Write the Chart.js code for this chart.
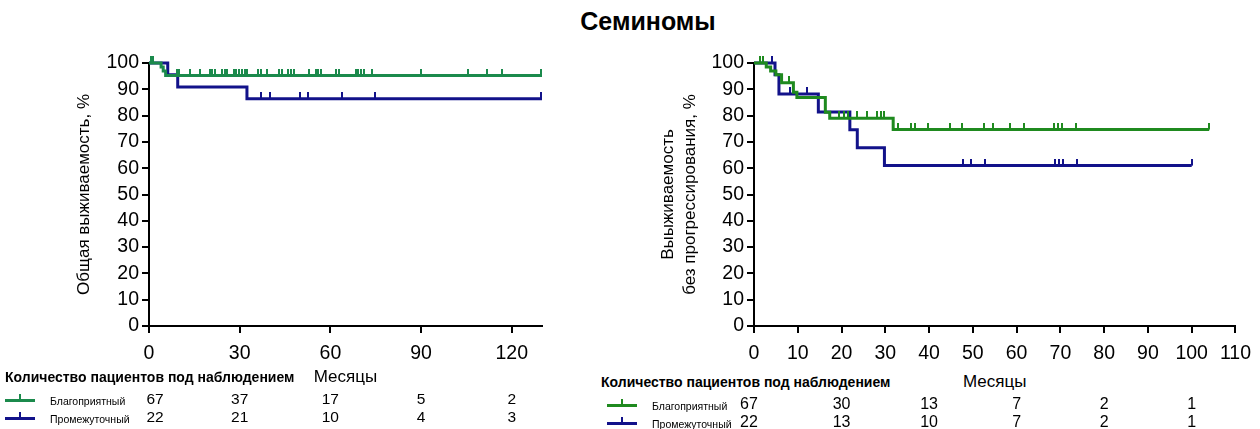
<!DOCTYPE html>
<html><head><meta charset="utf-8">
<script src="https://cdn.jsdelivr.net/npm/chart.js@4.4.0/dist/chart.umd.min.js"></script>
<style>
body{margin:0;width:1260px;height:429px;background:#fff;position:relative;overflow:hidden;font-family:"Liberation Sans",Arial,sans-serif;}
canvas{position:absolute;}
.t{position:absolute;white-space:nowrap;color:#000;}
</style></head><body>
<div class="t" style="left:648px;top:6px;transform:translateX(-50%);font-weight:bold;font-size:25px;line-height:30px;">Семиномы</div>
<canvas id="c1" width="560" height="330" style="left:0;top:40px"></canvas>
<canvas id="c2" width="660" height="330" style="left:600px;top:40px"></canvas>
<script>
// ---------- data ----------
const yTicks = [0,10,20,30,40,50,60,70,80,90,100];
const osTicksX = [0,30,60,90,120];
const pfsTicksX = [0,10,20,30,40,50,60,70,80,90,100,110];
const groupLabels = ['Благоприятный','Промежуточный'];

// Overall survival (left)
const osGoodTimes = [0, 4.0, 4.7, 5.5, 130];
const osGoodSurv  = [100, 98.5, 97.0, 95.2, 95.2];
const osGoodCensor = [0.6,1.4,9.3,9.8,13.7,17.0,20.1,21.0,21.9,24.1,25.0,25.8,28.0,28.9,29.8,30.7,31.6,32.4,36.2,37.0,39.0,43.0,43.9,46.1,46.9,47.8,52.9,55.1,55.9,56.8,61.9,62.7,68.5,69.3,70.2,71.1,73.8,89.9,105.6,111.7,116.8,129.8];
const osMidTimes = [0, 6.2, 9.5, 32.4, 130];
const osMidSurv  = [100, 95.5, 90.9, 86.4, 86.4];
const osMidCensor = [37.0,40.0,49.9,52.7,63.7,74.6,129.8];
const osRiskTimes = [0,30,60,90,120];
const osRiskGood = [67,37,17,5,2];
const osRiskMid  = [22,21,10,4,3];

// Progression-free survival (right)
const pfsGoodTimes = [0, 2.8, 3.8, 5.0, 6.3, 9.0, 9.8, 16.3, 17.3, 31.8, 104];
const pfsGoodSurv  = [100, 98.5, 97.0, 95.5, 92.5, 88.9, 86.9, 81.3, 79.0, 74.7, 74.7];
const pfsGoodCensor = [1.4,2.1,7.9,19.5,20.5,21.5,23.5,25.8,28.2,29.0,29.8,33.0,35.8,36.8,39.7,44.8,47.6,52.5,54.6,58.6,61.6,68.6,69.5,70.3,73.6,104];
const pfsMidTimes = [0, 4.8, 5.7, 14.7, 21.9, 23.6, 29.8, 100];
const pfsMidSurv  = [100, 95.5, 88.2, 81.4, 74.6, 67.8, 61.0, 61.0];
const pfsMidCensor = [4.0,8.2,12.0,47.7,49.6,52.8,68.7,69.6,70.5,73.7,100];
const pfsRiskTimes = [0,20,40,60,80,100];
const pfsRiskGood = [67,30,13,7,2,1];
const pfsRiskMid  = [22,13,10,7,2,1];

// ---------- helpers ----------
const FONT = '"Liberation Sans", Arial, sans-serif';
function stepAt(times, surv, t){ let v = surv[0]; for(let i=0;i<times.length;i++){ if(times[i]<=t) v=surv[i]; } return v; }
function tickImg(color){ const c=document.createElement('canvas'); c.width=2; c.height=14; const x=c.getContext('2d'); x.fillStyle=color; x.fillRect(0,0,2,7); return c; }
function curveDs(times, surv, color, order){
  return {type:'line', data: times.map((t,i)=>({x:t,y:surv[i]})), stepped:'before', borderColor:color, borderWidth:3, pointRadius:0, fill:false, clip:false, order:order, borderCapStyle:'butt', borderJoinStyle:'miter'};
}
function censorDs(censor, times, surv, color, order){
  return {type:'line', data: censor.map(t=>({x:t,y:stepAt(times,surv,t)})), showLine:false, pointStyle:tickImg(color), pointRadius:3, clip:false, order:order};
}
function makeChart(id, opts){
  const ctx = document.getElementById(id);
  return new Chart(ctx, {
    type:'line',
    data:{datasets: opts.datasets},
    options:{
      responsive:false, animation:false, devicePixelRatio:1,
      layout:{padding:{left:0, top:23, right:opts.padRight, bottom:0}, autoPadding:false},
      plugins:{legend:{display:false}, tooltip:{enabled:false}},
      scales:{
        x:{type:'linear', min:0, max:opts.xMax,
          afterBuildTicks: s=>{ s.ticks = opts.xTicks.map(v=>({value:v})); },
          ticks:{font:{family:FONT,size:19.5}, color:'#000', padding:9, maxRotation:0, autoSkip:false},
          grid:{drawOnChartArea:false, drawTicks:true, tickLength:7, tickWidth:2, tickColor:'#000', color:'#000', lineWidth:2},
          border:{display:true, color:'#000', width:2},
          afterFit: s=>{ s.height = 44; }
        },
        y:{type:'linear', min:0, max:100,
          afterBuildTicks: s=>{ s.ticks = yTicks.map(v=>({value:v})); },
          ticks:{font:{family:FONT,size:19.5}, color:'#000', padding:3, autoSkip:false},
          grid:{drawOnChartArea:false, drawTicks:true, tickLength:7, tickWidth:2, tickColor:'#000', color:'#000', lineWidth:2},
          border:{display:true, color:'#000', width:2},
          title:{display:true, text:opts.yTitle, color:'#000', font:{family:FONT,size:17, lineHeight:1.25}, padding:{top:opts.yTitlePad, bottom:0}},
          afterFit: s=>{ s.width = opts.yWidth; }
        }
      }
    }
  });
}
function txt(text, x, yc, size, o){
  o = o||{};
  const d=document.createElement('div'); d.className='t'; d.textContent=text;
  d.style.fontSize=size+'px'; d.style.lineHeight=size+'px';
  d.style.left=x+'px'; d.style.top=(yc-size/2)+'px';
  if(o.bold) d.style.fontWeight='bold';
  if(o.center) d.style.transform='translateX(-50%)';
  document.body.appendChild(d); return d;
}
function marker(x, yc, color){
  const l=document.createElement('div'); l.style.cssText='position:absolute;left:'+x+'px;top:'+(yc-1.5)+'px;width:30px;height:3px;background:'+color;
  const t=document.createElement('div'); t.style.cssText='position:absolute;left:'+(x+14)+'px;top:'+(yc-6)+'px;width:2px;height:6px;background:'+color;
  document.body.appendChild(l); document.body.appendChild(t);
}

const GREEN1='#1b8a4c', GREEN2='#1f8a1f', BLUE='#12128a';

const c1 = makeChart('c1', {
  xMax:130, xTicks:osTicksX, padRight:18, yWidth:149, yTitlePad:74,
  yTitle:'Общая выживаемость, %',
  datasets:[
    censorDs(osGoodCensor, osGoodTimes, osGoodSurv, GREEN1, 0),
    censorDs(osMidCensor, osMidTimes, osMidSurv, BLUE, 1),
    curveDs(osGoodTimes, osGoodSurv, GREEN1, 2),
    curveDs(osMidTimes, osMidSurv, BLUE, 3)
  ]
});
const c2 = makeChart('c2', {
  xMax:110, xTicks:pfsTicksX, padRight:21, yWidth:154, yTitlePad:58,
  yTitle:['Выыживаемость','без прогрессирования, %'],
  datasets:[
    censorDs(pfsGoodCensor, pfsGoodTimes, pfsGoodSurv, GREEN2, 0),
    censorDs(pfsMidCensor, pfsMidTimes, pfsMidSurv, BLUE, 1),
    curveDs(pfsGoodTimes, pfsGoodSurv, GREEN2, 2),
    curveDs(pfsMidTimes, pfsMidSurv, BLUE, 3)
  ]
});

// ---------- number-at-risk tables ----------
function table(chart, offX, riskTimes, good, mid, o){
  const xs = chart.scales.x;
  txt('Количество пациентов под наблюдением', o.titleX, o.titleY, 14, {bold:true});
  txt('Месяцы', offX + (chart.chartArea.left+chart.chartArea.right)/2, o.monthY, 17, {center:true});
  marker(o.markX, o.row1, o.green); marker(o.markX, o.row2, BLUE);
  txt(groupLabels[0], o.markX+45, o.row1+1, 10.5);
  txt(groupLabels[1], o.markX+45, o.row2+1, 10.5);
  riskTimes.forEach((t,i)=>{
    const px = offX + xs.getPixelForValue(t) + (i===0?o.firstShift:0);
    txt(String(good[i]), px, o.row1-1, o.numSize, {center:true});
    txt(String(mid[i]), px, o.row2-1, o.numSize, {center:true});
  });
}
table(c1, 0, osRiskTimes, osRiskGood, osRiskMid, {titleX:5, titleY:377, monthY:376, markX:5, row1:400, row2:418, green:GREEN1, numSize:15.5, firstShift:6});
table(c2, 600, pfsRiskTimes, pfsRiskGood, pfsRiskMid, {titleX:601, titleY:382, monthY:381, markX:607, row1:405, row2:423, green:GREEN2, numSize:16, firstShift:-5});
</script>
</body></html>
